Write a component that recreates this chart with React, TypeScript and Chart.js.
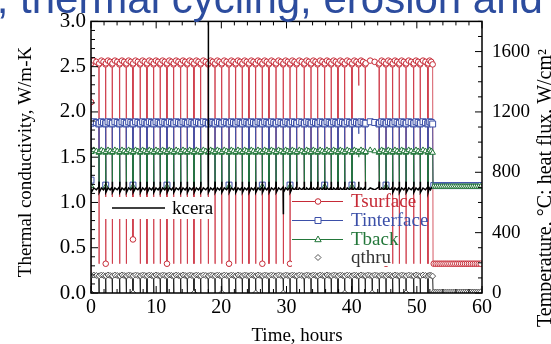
import React, { useEffect, useRef } from 'react';
import { Chart, registerables } from 'chart.js';

Chart.register(...registerables);

// ---------- data ----------
// hours at which each thermal cycle drops
const cycleHours = [1.23, 2.26, 3.27, 4.40, 5.42, 6.44, 7.56, 8.59, 9.62, 10.63, 11.66, 12.69, 13.76, 14.78, 15.80, 16.83,
  18.00, 19.03, 20.06, 21.18, 22.20, 23.22, 24.24, 25.27, 26.29, 27.31, 28.39, 29.51, 30.54, 31.56, 32.73, 33.76, 34.79,
  35.86, 36.87, 37.90, 38.93, 40.05, 41.08, 42.09, 44.24, 45.27, 46.29, 47.31, 48.34, 49.52, 50.53, 51.71];
const runEndHour = 52.45;
const kceraEndHour = 52.3;
// where inside each cycle the plateau samples sit (fraction of the cycle)
const plateauFractions = [0.03, 0.35, 0.67, 0.97];
// samples after the run stopped
const tailHours = [52.6, 52.9, 53.2, 53.5, 53.8, 54.1, 54.4, 54.7, 55.0, 55.3, 55.6, 55.9, 56.2, 56.5, 56.8, 57.1,
  57.4, 57.7, 58.0, 58.3, 58.6, 58.9, 59.2, 59.5, 59.8];

// Tsurface, °C
const tsurfStart = [25, 1265];
const tsurfPlateau = [1522, 1540, 1532, 1515];
const tsurfLow = 194;
const tsurfLowOverrides: [number, number][] = [[6.44, 355], [41.08, 1375]];
const tsurfMarkedLows = [2.26, 6.44, 11.66, 21.18, 26.29, 30.54, 45.27];
const tsurfTail = 194;

// Tinterface, °C
const tintStart = 748;
const tintPlateau = [1125, 1135, 1130, 1120];
const tintLow = 715;
const tintLowOverrides: [number, number][] = [[41.08, 1055]];
const tintMarkedLows = [2.26, 6.44, 11.66, 21.18, 26.29, 30.54, 35.86, 40.05, 45.27];
const tintTail = 712;

// Tback, °C
const tbackStart = 710;
const tbackPlateau = [935, 947, 940, 930];
const tbackLow = 705;
const tbackLowOverrides: [number, number][] = [[41.08, 900]];
const tbackMarkedLows = [2.26, 6.44, 11.66, 21.18, 26.29, 30.54, 35.86, 40.05, 45.27];
const tbackTail = 705;

// qthru, W/cm2
const qthruExtraDrops = [43.15];
const qthruPlateau = [114, 119, 116, 112];
const qthruLow = 0;
const qthruMarkedLows = [6.44, 15.80, 20.06, 25.27, 29.51, 38.93, 43.15, 48.34];
const qthruTail = 6;

// kcera, W/m-K
const kceraStart = 1.15;
const kceraPlateau = [1.11, 1.16, 1.14, 1.17];
const kceraPeak = 1.23;
const kceraPeakOverrides: [number, number][] = [[18.00, 3.6], [29.51, 0.87]];

// ticks
const timeTicks = [0, 10, 20, 30, 40, 50, 60];
const kTicks = [0, 0.5, 1.0, 1.5, 2.0, 2.5, 3.0];
const tempTicks = [0, 400, 800, 1200, 1600];

// ---------- styles ----------
const RED = '#c62a36';
const RED_LINE = 'rgba(204,48,62,0.8)';
const BLUE = '#3b4fa8';
const BLUE_LINE = 'rgba(62,82,170,0.85)';
const GREEN = '#23773a';
const GREEN_LINE = 'rgba(35,119,58,0.85)';
const QLINE = '#222222';
const QMARK = '#555555';
const SERIF = '"Liberation Serif", "Times New Roman", serif';

type P = { x: number; y: number; m: boolean };

function near(list: number[], h: number) {
  return list.some((v) => Math.abs(v - h) < 0.05);
}

function buildRun(
  drops: number[],
  plateau: number[],
  low: number,
  overrides: [number, number][],
  marked: number[],
  start: P[],
  endHour: number,
  tailValue: number | null,
): P[] {
  const pts: P[] = [...start];
  const bounds = [0, ...drops, endHour];
  for (let k = 0; k < bounds.length - 1; k++) {
    const a = bounds[k];
    const b = bounds[k + 1];
    if (k > 0) {
      const o = overrides.find((p) => Math.abs(p[0] - a) < 0.05);
      pts.push({ x: a, y: o ? o[1] : low, m: near(marked, a) });
    }
    plateauFractions.forEach((f, j) => pts.push({ x: a + f * (b - a), y: plateau[j], m: true }));
  }
  if (tailValue !== null) {
    pts.push({ x: endHour + 0.04, y: tailValue, m: false });
    tailHours.forEach((h) => pts.push({ x: h, y: tailValue, m: true }));
  }
  return pts;
}

function drawMarker(ctx: CanvasRenderingContext2D, kind: string, x: number, y: number, color: string) {
  ctx.save();
  ctx.fillStyle = '#fff';
  ctx.strokeStyle = color;
  ctx.lineWidth = 1;
  ctx.beginPath();
  if (kind === 'circle') ctx.arc(x, y, 2.8, 0, Math.PI * 2);
  else if (kind === 'rect') ctx.rect(x - 3, y - 3, 6, 6);
  else if (kind === 'triangle') {
    ctx.moveTo(x, y - 3.5);
    ctx.lineTo(x + 3.2, y + 2.2);
    ctx.lineTo(x - 3.2, y + 2.2);
    ctx.closePath();
  } else {
    ctx.moveTo(x, y - 3);
    ctx.lineTo(x + 3, y);
    ctx.lineTo(x, y + 3);
    ctx.lineTo(x - 3, y);
    ctx.closePath();
  }
  ctx.fill();
  ctx.stroke();
  ctx.restore();
}

const decor = {
  id: 'decor',
  afterDatasetsDraw(chart: any) {
    const ctx: CanvasRenderingContext2D = chart.ctx;
    ctx.save();
    // kcera legend
    ctx.fillStyle = '#fff';
    ctx.fillRect(100, 197, 114, 22);
    ctx.strokeStyle = '#000';
    ctx.lineWidth = 1.3;
    ctx.beginPath();
    ctx.moveTo(112, 208);
    ctx.lineTo(165, 208);
    ctx.stroke();
    ctx.font = `19px ${SERIF}`;
    ctx.fillStyle = '#000';
    ctx.textBaseline = 'alphabetic';
    ctx.textAlign = 'left';
    ctx.fillText('kcera', 172, 214);

    // temperature / heat flux legend
    ctx.fillStyle = '#fff';
    ctx.fillRect(292, 190, 100, 76);
    const rows = [
      { y: 201, color: RED, label: 'Tsurface', kind: 'circle', line: true, text: RED },
      { y: 220, color: BLUE, label: 'Tinterface', kind: 'rect', line: true, text: BLUE },
      { y: 239, color: GREEN, label: 'Tback', kind: 'triangle', line: true, text: GREEN },
      { y: 257, color: QMARK, label: 'qthru', kind: 'diamond', line: false, text: '#333' },
    ];
    rows.forEach((r) => {
      if (r.line) {
        ctx.strokeStyle = r.color;
        ctx.lineWidth = 1;
        ctx.beginPath();
        ctx.moveTo(292, r.y + 0.5);
        ctx.lineTo(343, r.y + 0.5);
        ctx.stroke();
      }
      drawMarker(ctx, r.kind, 318, r.y + 0.5, r.color);
      ctx.fillStyle = r.text;
      ctx.font = `19px ${SERIF}`;
      ctx.fillText(r.label, 351, r.y + 6);
    });
    ctx.restore();
  },
  afterDraw(chart: any) {
    const ctx: CanvasRenderingContext2D = chart.ctx;
    const a = chart.chartArea;
    const sx = chart.scales.x;
    const sy = chart.scales.y;
    const sy2 = chart.scales.y2;
    ctx.save();
    ctx.strokeStyle = '#000';
    ctx.lineWidth = 1;
    const seg = (x1: number, y1: number, x2: number, y2: number) => {
      ctx.beginPath();
      ctx.moveTo(x1, y1);
      ctx.lineTo(x2, y2);
      ctx.stroke();
    };
    for (let v = 0; v <= 60; v += 2) {
      const x = sx.getPixelForValue(v);
      const L = timeTicks.includes(v) ? 7 : 4;
      seg(x, a.bottom, x, a.bottom - L);
      seg(x, a.top, x, a.top + L);
    }
    for (let i = 0; i <= 30; i++) {
      const v = i / 10;
      const y = sy.getPixelForValue(v);
      const L = i % 5 === 0 ? 7 : 4;
      seg(a.left, y, a.left + L, y);
    }
    for (let v = 0; v <= 1800; v += 100) {
      const y = sy2.getPixelForValue(v);
      const L = tempTicks.includes(v) ? 7 : 4;
      seg(a.right, y, a.right - L, y);
    }
    ctx.lineWidth = 1.5;
    ctx.strokeRect(a.left, a.top, a.right - a.left, a.bottom - a.top);

    // axis titles
    ctx.fillStyle = '#000';
    ctx.font = `19px ${SERIF}`;
    ctx.textAlign = 'center';
    ctx.textBaseline = 'alphabetic';
    ctx.fillText('Time, hours', 297, 341);
    ctx.save();
    ctx.translate(31, 162);
    ctx.rotate(-Math.PI / 2);
    ctx.fillText('Thermal conductivity, W/m-K', 0, 0);
    ctx.restore();
    ctx.save();
    ctx.translate(551, 188);
    ctx.rotate(-Math.PI / 2);
    ctx.font = `20px ${SERIF}`;
    ctx.fillText('Temperature, °C; heat flux, W/cm²', 0, 0);
    ctx.restore();

    // slide title fragment (cut off at the top)
    ctx.fillStyle = '#2c4c9e';
    ctx.font = '42px "Liberation Sans", Arial, sans-serif';
    ctx.textAlign = 'left';
    ctx.fillText('g, thermal cycling, erosion and', -26.7, 12.5);
    ctx.restore();
  },
};

export default function App() {
  const ref = useRef<HTMLCanvasElement | null>(null);

  useEffect(() => {
    if (!ref.current) return;

    const tsurf = buildRun(cycleHours, tsurfPlateau, tsurfLow, tsurfLowOverrides, tsurfMarkedLows,
      [{ x: 0, y: tsurfStart[0], m: false }, { x: 0.005, y: tsurfStart[1], m: true }], runEndHour, tsurfTail);
    const tint = buildRun(cycleHours, tintPlateau, tintLow, tintLowOverrides, tintMarkedLows,
      [{ x: 0, y: tintStart, m: true }], runEndHour, tintTail);
    const tback = buildRun(cycleHours, tbackPlateau, tbackLow, tbackLowOverrides, tbackMarkedLows,
      [{ x: 0, y: tbackStart, m: true }], runEndHour, tbackTail);
    const qDrops = [...cycleHours, ...qthruExtraDrops].sort((p, q) => p - q);
    const qthru = buildRun(qDrops, qthruPlateau, qthruLow, [], qthruMarkedLows,
      [{ x: 0, y: 0, m: true }], runEndHour, qthruTail);
    const kcera = buildRun(cycleHours, kceraPlateau, kceraPeak, kceraPeakOverrides, [],
      [{ x: 0, y: kceraStart, m: false }], kceraEndHour, null);

    const radius = (r: number) => (c: any) => (c.raw && c.raw.m === false ? 0 : r);
    const common = { showLine: true, borderWidth: 1, pointBorderWidth: 1, pointBackgroundColor: '#ffffff', pointHoverRadius: 0 };

    const chart = new Chart(ref.current, {
      type: 'scatter',
      data: {
        datasets: [
          { ...common, label: 'kcera', data: kcera, yAxisID: 'y', borderColor: '#000', borderWidth: 1.5, pointRadius: 0 },
          { ...common, label: 'qthru', data: qthru, yAxisID: 'y2', borderColor: QLINE, pointBorderColor: QMARK, pointStyle: 'rectRot', pointRadius: radius(3) },
          { ...common, label: 'Tback', data: tback, yAxisID: 'y2', borderColor: GREEN_LINE, pointBorderColor: GREEN, pointStyle: 'triangle', pointRadius: radius(3.2) },
          { ...common, label: 'Tinterface', data: tint, yAxisID: 'y2', borderColor: BLUE_LINE, pointBorderColor: BLUE, pointStyle: 'rect', pointRadius: radius(4.2) },
          { ...common, label: 'Tsurface', data: tsurf, yAxisID: 'y2', borderColor: RED_LINE, pointBorderColor: RED, pointStyle: 'circle', pointRadius: radius(2.8) },
        ] as any,
      },
      options: {
        animation: false,
        responsive: false,
        layout: { padding: { top: 14, left: 0, right: 0, bottom: 0 } },
        plugins: { legend: { display: false }, tooltip: { enabled: false } },
        events: [],
        scales: {
          x: {
            type: 'linear', position: 'bottom', min: 0, max: 60,
            afterFit: (s: any) => { s.height = 51; },
            afterBuildTicks: (s: any) => { s.ticks = timeTicks.map((v) => ({ value: v })); },
            ticks: { padding: 3, maxRotation: 0, autoSkip: false, color: '#000', font: { family: SERIF, size: 20 } },
            grid: { display: false, drawTicks: false }, border: { display: false },
          },
          y: {
            type: 'linear', position: 'left', min: 0, max: 3,
            afterFit: (s: any) => { s.width = 91; },
            afterBuildTicks: (s: any) => { s.ticks = kTicks.map((v) => ({ value: v })); },
            ticks: { padding: 5, color: '#000', font: { family: SERIF, size: 21 }, callback: (v: any) => Number(v).toFixed(1) },
            grid: { display: false, drawTicks: false }, border: { display: false },
          },
          y2: {
            type: 'linear', position: 'right', min: 0, max: 1800,
            afterFit: (s: any) => { s.width = 69; },
            afterBuildTicks: (s: any) => { s.ticks = tempTicks.map((v) => ({ value: v })); },
            ticks: { padding: 10, color: '#000', font: { family: SERIF, size: 19 }, callback: (v: any) => String(v) },
            grid: { display: false, drawTicks: false }, border: { display: false },
          },
        },
      } as any,
      plugins: [decor],
    });
    return () => chart.destroy();
  }, []);

  return (
    <div style={{ position: 'fixed', left: 0, top: 0, width: 551, height: 344, background: '#fff' }}>
      <canvas ref={ref} width={551} height={344} style={{ width: 551, height: 344, display: 'block' }} />
    </div>
  );
}
